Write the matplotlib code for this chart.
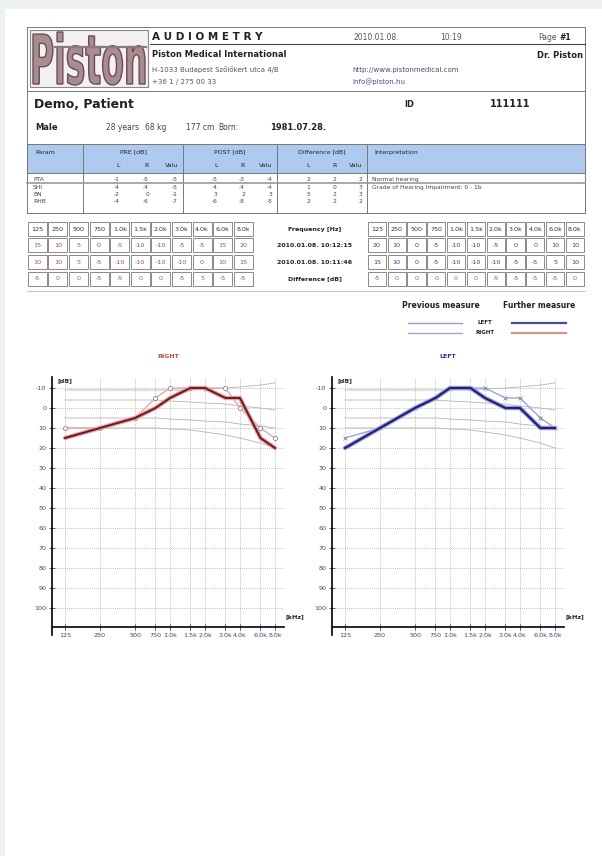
import matplotlib
matplotlib.use('Agg')
import matplotlib.pyplot as plt
from matplotlib.patches import Rectangle, PathPatch
from matplotlib.textpath import TextPath
from matplotlib.font_manager import FontProperties
from matplotlib.transforms import Affine2D

plt.rcParams['axes.unicode_minus'] = False

# ---- data ----
freqs = [125, 250, 500, 750, 1000, 1500, 2000, 3000, 4000, 6000, 8000]
freq_labels = ['125', '250', '500', '750', '1.0k', '1.5k', '2.0k', '3.0k', '4.0k', '6.0k', '8.0k']

right_further = [15, 10, 5, 0, -5, -10, -10, -5, -5, 15, 20]     # 2010.01.08. 10:12:15
right_previous = [10, 10, 5, -5, -10, -10, -10, -10, 0, 10, 15]  # 2010.01.08. 10:11:46
left_further = [20, 10, 0, -5, -10, -10, -5, 0, 0, 10, 10]
left_previous = [15, 10, 0, -5, -10, -10, -10, -5, -5, 5, 10]

# thin grey reference curves drawn in both audiograms
norm_curves = [
    [-9, -9, -9, -9, -9, -9, -9.5, -10, -10.5, -11.5, -12.5],
    [-4, -4, -4, -4, -3.5, -3, -2.5, -2, -1, 0, 1],
    [5, 5, 5, 5, 5.5, 6, 6.5, 7, 8, 9, 10],
    [10, 10, 10, 10, 10.5, 11, 12, 13.5, 15, 17.5, 20],
]

params = ['PTA', 'SHI', 'BN', 'RHB']
pre_vals = [[-1, -5, -5], [-4, -4, -5], [-2, 0, -1], [-4, -6, -7]]
post_vals = [[-5, -3, -4], [-4, -4, -4], [3, 2, 3], [-6, -8, -5]]
diff_vals = [[2, 2, 2], [1, 0, 3], [5, 2, 3], [2, 2, 2]]
interpretation = ['Normal hearing', 'Grade of Hearing Impairment: 0 - 1b', '', '']

fig = plt.figure(figsize=(6.02, 8.56), dpi=100, facecolor='#eef1f1')
bg = fig.add_axes([0, 0, 1, 1])
bg.set_xlim(0, 602)
bg.set_ylim(856, 0)
bg.axis('off')
bg.add_patch(Rectangle((5, 9), 597, 847, fc='white', ec='none'))


def txt(x, y, s, size=5, weight='normal', color='#222222', ha='left', va='center'):
    bg.text(x, y, s, fontsize=size, fontweight=weight, color=color, ha=ha, va=va)


def hline(y, x0, x1, c='#777777', lw=0.7):
    bg.plot([x0, x1], [y, y], color=c, lw=lw)


def vline(x, y0, y1, c='#777777', lw=0.7):
    bg.plot([x, x], [y0, y1], color=c, lw=lw)


# ---- header / logo ----
bg.add_patch(Rectangle((30, 30), 118, 57, fc='#f4f0f1', ec='#888888', lw=0.8))
fp = FontProperties(family='DejaVu Sans', weight='bold')
tp = TextPath((0, 0), 'Piston', prop=fp, size=1)
ext = tp.get_extents()
tr = Affine2D().translate(-ext.x0, -ext.y0).scale(112 / ext.width, -53 / ext.height).translate(33, 85)
bg.add_patch(PathPatch(tr.transform_path(tp), fc='#a98b92', ec='#6a4d55', lw=1.0))
hline(47, 55, 146, c='#8a7a80', lw=1.6)

hline(27, 27, 585)
vline(27, 27, 213)
vline(585, 27, 213)
hline(91, 27, 585)
hline(44, 150, 585, c='#444444', lw=0.8)

txt(152, 37, 'A U D I O M E T R Y', size=7.5, weight='bold')
txt(353, 37, '2010.01.08.', size=5.5, color='#555555')
txt(440, 37, '10:19', size=5.5, color='#555555')
txt(538, 37, 'Page', size=5.5, color='#555555')
txt(559, 37, '#1', size=5.5, weight='bold')
txt(152, 54, 'Piston Medical International', size=6, weight='bold')
txt(583, 55, 'Dr. Piston', size=6, weight='bold', ha='right')
txt(152, 69, 'H-1033 Budapest Szőlőkert utca 4/B', size=5, color='#555555')
txt(152, 82, '+36 1 / 275 00 33', size=5, color='#555555')
txt(352, 70, 'http://www.pistonmedical.com', size=5, color='#4a4a7a')
txt(352, 82, 'info@piston.hu', size=5, color='#4a4a7a')

txt(34, 104, 'Demo, Patient', size=9, weight='bold')
txt(404, 104, 'ID', size=6, weight='bold')
txt(490, 104, '111111', size=7, weight='bold')
txt(35, 127, 'Male', size=6, weight='bold')
txt(106, 127, '28 years', size=5.5, color='#444444')
txt(145, 127, '68 kg', size=5.5, color='#444444')
txt(186, 127, '177 cm', size=5.5, color='#444444')
txt(218, 127, 'Born:', size=5.5, color='#444444')
txt(270, 127, '1981.07.28.', size=6, weight='bold')

# ---- parameter table ----
bg.add_patch(Rectangle((27, 144), 558, 29, fc='#aecbef', ec='#777777', lw=0.7))
hline(213, 27, 585)
cols = [(83, 183, 'PRE [dB]', pre_vals), (183, 277, 'POST [dB]', post_vals),
        (277, 367, 'Difference [dB]', diff_vals)]
for x in [83, 183, 277, 367]:
    vline(x, 144, 213)
txt(35, 152, 'Param', size=4.5)
txt(374, 152, 'Interpretation', size=4.5)
row_y = [179, 187, 194, 201]
hline(183, 27, 585, c='#999999', lw=1.2)
for x0, x1, head, vals in cols:
    w = x1 - x0
    txt((x0 + x1) / 2, 152, head, size=4.5, ha='center')
    offs = [x0 + 0.37 * w, x0 + 0.66 * w, x0 + 0.95 * w]
    for o, s in zip(offs, ['L', 'R', 'Valu']):
        txt(o, 165, s, size=4.5, ha='right')
    for r, y in enumerate(row_y):
        for o, v in zip(offs, vals[r]):
            txt(o, y, str(v), size=4.3, color='#444444', ha='right')
for p, s, y in zip(params, interpretation, row_y):
    txt(33, y, p, size=4.3, color='#444444')
    txt(372, y, s, size=4.3, color='#444444')

# ---- frequency tables ----
row_c = [229, 245, 262, 279]


def freq_table(x0, cw, further, previous, col):
    diff = [p - f for p, f in zip(previous, further)]
    rows = [(freq_labels, '#333333'), ([str(v) for v in further], col),
            ([str(v) for v in previous], col)]
    for i in range(len(freqs)):
        for r, y in enumerate(row_c):
            bg.add_patch(Rectangle((x0 + i * cw + 0.8, y - 7), cw - 1.6, 14,
                                   fc='white', ec='#8a8a8a', lw=0.7))
            if r < 3:
                s, c = rows[r][0][i], rows[r][1]
            else:
                s = str(diff[i])
                c = '#c04848' if diff[i] < 0 else '#3f9a3f'
            txt(x0 + (i + 0.5) * cw, y, s, size=4.6, color=c, ha='center')


freq_table(27, 20.6, right_further, right_previous, '#b04848')
freq_table(367, 19.8, left_further, left_previous, '#3a3aa0')
txt(315, row_c[0], 'Frequency [Hz]', size=4.5, weight='bold', ha='center')
txt(315, row_c[1], '2010.01.08. 10:12:15', size=4.5, weight='bold', ha='center')
txt(315, row_c[2], '2010.01.08. 10:11:46', size=4.5, weight='bold', ha='center')
txt(315, row_c[3], 'Difference [dB]', size=4.5, weight='bold', ha='center')
hline(291, 27, 585, c='#bbbbbb', lw=0.6)

# ---- legend ----
txt(441, 305, 'Previous measure', size=5.5, weight='bold', ha='center')
txt(539, 305, 'Further measure', size=5.5, weight='bold', ha='center')
hline(323, 408, 462, c='#9a9acc', lw=1)
hline(333, 408, 462, c='#a8a8b8', lw=1)
hline(323, 512, 566, c='#4a4a9a', lw=1.6)
hline(333, 512, 566, c='#d89090', lw=1.6)
txt(485, 323, 'LEFT', size=4, weight='bold', ha='center')
txt(485, 333, 'RIGHT', size=4, weight='bold', ha='center')


# ---- audiograms ----
def audiogram(x0, title, tcol, further, previous, fcol, halo, pcol, marker):
    ax = fig.add_axes([x0 / 602, (856 - 635) / 856, 232 / 602, 258 / 856])
    ax.set_facecolor('none')
    ax.set_xscale('log')
    ax.set_xlim(96.5, 9570)
    ax.set_ylim(113.5, -15.5)
    ax.set_xticks(freqs)
    ax.set_xticklabels(freq_labels)
    ax.minorticks_off()
    ax.set_yticks(range(-10, 101, 10))
    ax.spines['top'].set_visible(False)
    ax.spines['right'].set_visible(False)
    ax.spines['bottom'].set_position(('data', 109.5))
    ax.spines['left'].set_linewidth(1.2)
    ax.spines['bottom'].set_linewidth(1.2)
    ax.tick_params(labelsize=4.6, colors='#44447a', direction='inout', length=4, width=0.6, pad=2)
    ax.grid(True, ls=(0, (1, 1.5)), color='#a8a8a8', lw=0.6)
    for nc in norm_curves:
        ax.plot(freqs, nc, color='#b4b4b4', lw=0.6)
    ax.plot(freqs, previous, color=pcol, lw=1.0, marker=marker, ms=3,
            mfc='white', mec='#888888', mew=0.6)
    ax.plot(freqs, further, color=halo, lw=3.2, solid_capstyle='round')
    ax.plot(freqs, further, color=fcol, lw=1.5)
    txt(x0 + 116, 356, title, size=4.5, weight='bold', color=tcol, ha='center')
    txt(x0 + 6, 381, '[dB]', size=4.6, weight='bold')
    txt(x0 + 234, 617, '[kHz]', size=4.6, weight='bold')


audiogram(52, 'RIGHT', '#c04848', right_further, right_previous,
          '#6e1e1e', '#e6a6a6', '#e8a8a8', 'o')
audiogram(332, 'LEFT', '#303080', left_further, left_previous,
          '#1e1e78', '#9a9ad8', '#a0a0e0', 'x')

fig.savefig('out.png', dpi=100, facecolor=fig.get_facecolor())
